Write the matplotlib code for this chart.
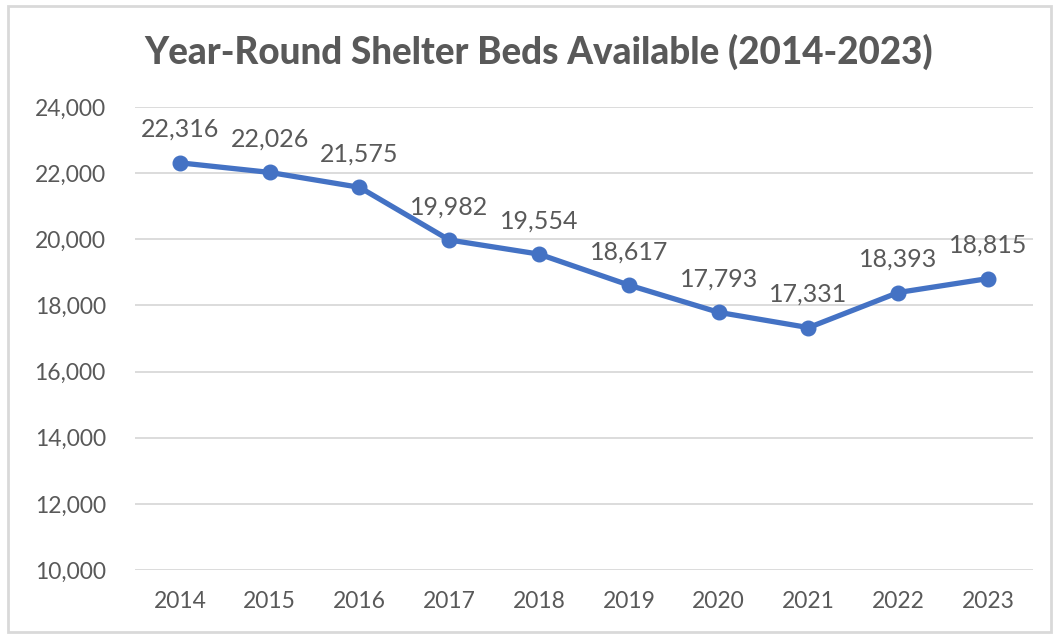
import matplotlib.pyplot as plt
from matplotlib.patches import Rectangle
from matplotlib.ticker import FuncFormatter

years = ["2014", "2015", "2016", "2017", "2018", "2019", "2020", "2021", "2022", "2023"]
beds = [22316, 22026, 21575, 19982, 19554, 18617, 17793, 17331, 18393, 18815]
yticks = [10000, 12000, 14000, 16000, 18000, 20000, 22000, 24000]

plt.rcParams["font.family"] = ["Lato", "DejaVu Sans"]

fig = plt.figure(figsize=(10.57, 6.34), dpi=100)
ax = fig.add_axes([0.1277, 0.101, 0.8496, 0.730])

x = list(range(len(years)))
ax.plot(x, beds, color="#4472C4", lw=3.8, marker="o", ms=10.5, solid_capstyle="round")
for xi, v in zip(x, beds):
    ax.annotate(f"{v:,}", (xi, v), xytext=(0, 24), textcoords="offset points",
                ha="center", va="center", fontsize=18, color="#595959")

ax.set_xlim(-0.5, len(years) - 0.5)
ax.set_ylim(10000, 24000)
ax.set_yticks(yticks)
ax.yaxis.set_major_formatter(FuncFormatter(lambda v, p: f"{int(v):,}"))
ax.set_xticks(x)
ax.set_xticklabels(years)
ax.grid(axis="y", color="#D9D9D9", lw=1.3)
ax.set_axisbelow(True)
for s in ax.spines.values():
    s.set_visible(False)
ax.tick_params(length=0, labelsize=16.5, colors="#595959")
ax.tick_params(axis="y", pad=21)
ax.tick_params(axis="x", pad=15)

fig.text(0.510, 0.919, "Year-Round Shelter Beds Available (2014-2023)", ha="center", va="center",
         fontsize=26.5, fontweight=900, color="#595959")

fig.patches.append(Rectangle((8 / 1057, 2 / 634), 1043 / 1057, 626 / 634, transform=fig.transFigure,
                             fill=False, edgecolor="#D9D9D9", lw=2))

fig.savefig("out.png", dpi=100)
